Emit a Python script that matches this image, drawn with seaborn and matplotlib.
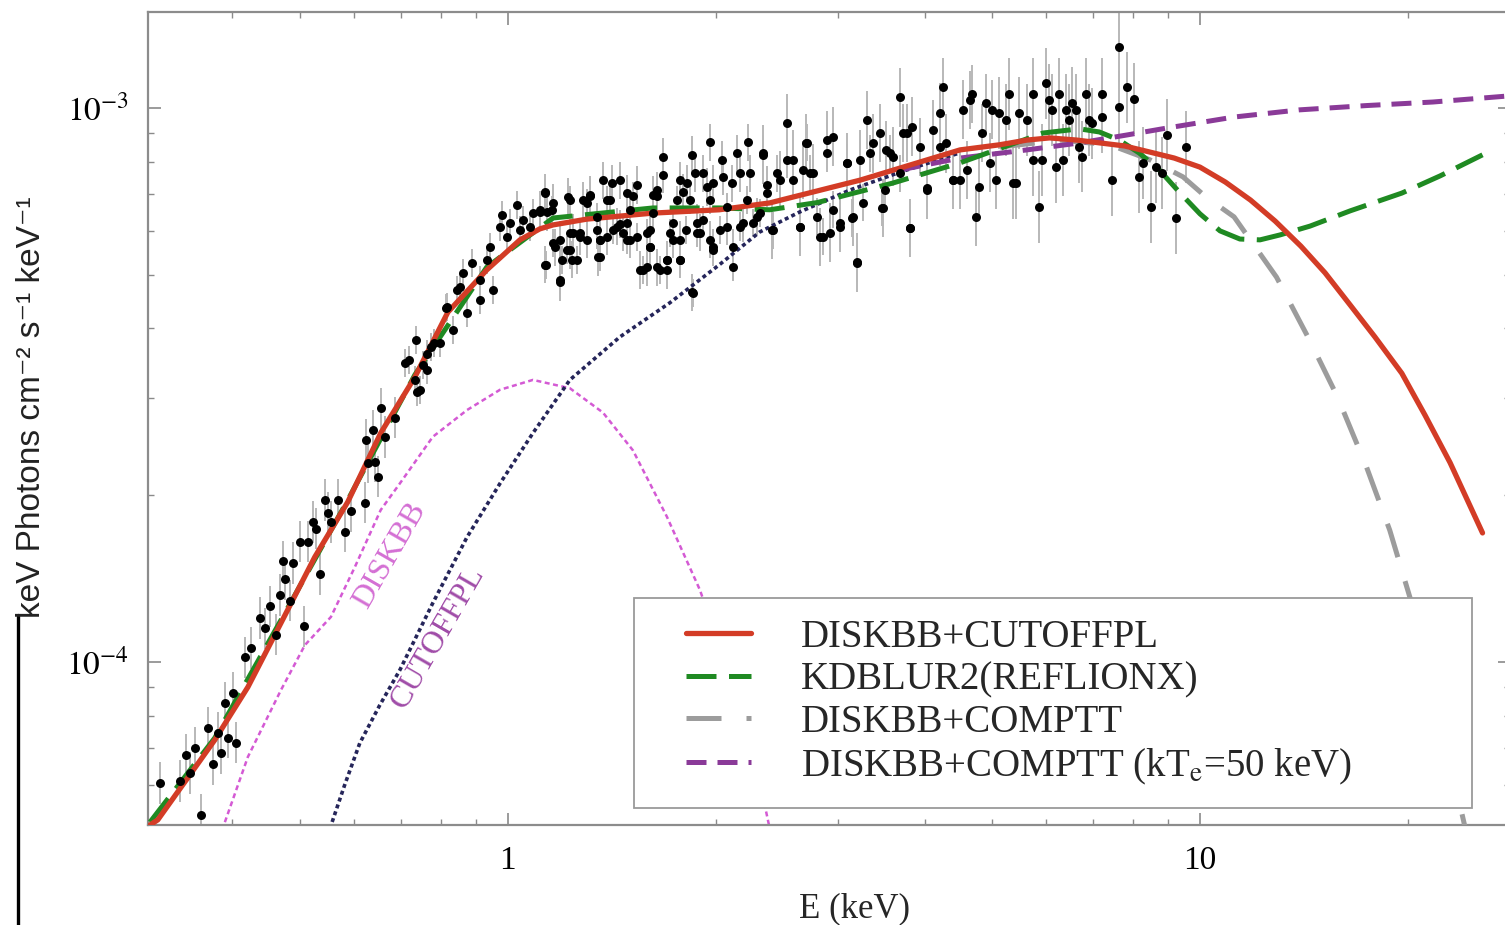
import numpy as np
import matplotlib
matplotlib.use("Agg")
import matplotlib.pyplot as plt
import seaborn as sns
from matplotlib.ticker import FixedLocator, FixedFormatter, LogLocator, NullFormatter
from matplotlib.lines import Line2D
from matplotlib.legend_handler import HandlerLine2D

# ---------------- data (E in keV, flux in units of 1e-4 keV Photons cm^-2 s^-1 keV^-1) -------------
# observed spectrum, split in energy bands with their typical relative error
segA_E = [0.314, 0.336, 0.343, 0.347, 0.353, 0.360, 0.369, 0.375, 0.381, 0.385, 0.390, 0.394, 0.401, 0.405,
          0.417, 0.425, 0.438, 0.445, 0.453, 0.462, 0.468, 0.473, 0.476, 0.484, 0.489, 0.500, 0.508, 0.514,
          0.523, 0.528, 0.535, 0.544, 0.549, 0.555, 0.568, 0.581, 0.593, 0.621, 0.624, 0.628, 0.638, 0.642,
          0.649, 0.655, 0.664, 0.686]
segA_F = [0.605, 0.61, 0.68, 0.63, 0.70, 0.53, 0.76, 0.655, 0.745, 0.685, 0.845, 0.73, 0.88, 0.715,
          1.02, 1.06, 1.20, 1.15, 1.26, 1.12, 1.32, 1.52, 1.41, 1.29, 1.51, 1.65, 1.16, 1.65,
          1.79, 1.74, 1.44, 1.96, 1.86, 1.79, 1.96, 1.72, 1.87, 1.94, 2.52, 2.29, 2.62, 2.30,
          2.16, 2.87, 2.55, 2.76]
segA_err = 1.09

segB_E = [0.709, 0.720, 0.733, 0.736, 0.739, 0.746, 0.753, 0.764, 0.765, 0.774, 0.781, 0.798, 0.814, 0.817,
          0.833, 0.845, 0.853, 0.861, 0.873, 0.887, 0.911, 0.911, 0.932, 0.942, 0.952, 0.974, 0.980, 0.997,
          1.007, 1.03, 1.041, 1.051, 1.076, 1.087, 1.112, 1.13, 1.137, 1.157, 1.161, 1.189, 1.197, 1.217,
          1.229, 1.229, 1.258, 1.271, 1.30, 1.314, 1.345, 1.358, 1.358, 1.39, 1.418, 1.451, 1.485, 1.50,
          1.515, 1.535, 1.567, 1.588, 1.604, 1.62, 1.641, 1.658, 1.697, 1.714, 1.731, 1.754, 1.772, 1.81,
          1.832, 1.85, 1.875, 1.913, 1.958, 1.978, 2.024, 2.071, 2.113, 2.163, 2.213, 2.259, 2.312, 2.366]
segB_F = [3.46, 3.51, 3.23, 3.81, 3.07, 3.10, 3.44, 3.59, 3.37, 3.70, 3.76, 3.76, 4.36, 4.38,
          3.97, 4.69, 4.75, 5.03, 4.27, 5.25, 4.89, 4.50, 5.32, 5.61, 4.69, 6.11, 6.41, 5.85,
          6.20, 6.68, 6.02, 6.28, 6.11, 6.47, 6.50, 7.02, 5.21, 6.55, 5.71, 4.89, 5.32, 5.54,
          5.95, 6.82, 5.32, 5.95, 6.74, 6.93, 6.36, 5.39, 5.78, 6.82, 6.02, 6.17, 5.78, 6.55,
          6.93, 5.85, 5.10, 5.95, 5.61, 6.47, 6.93, 5.10, 5.32, 5.95, 6.20, 6.82, 5.32, 6.02,
          6.82, 4.63, 5.95, 6.28, 6.82, 5.54, 6.02, 6.63, 5.16, 6.11, 6.82, 6.20, 6.47, 7.02]
segB_err = 1.06

segB2_E = [1.131, 1.161, 1.139, 1.131, 1.189, 1.169, 1.229, 1.237, 1.221, 1.271, 1.284, 1.314, 1.349, 1.358,
           1.404, 1.413, 1.451, 1.466, 1.500, 1.536, 1.551, 1.588, 1.604, 1.620, 1.642, 1.674, 1.674, 1.697,
           1.697, 1.731, 1.772, 1.790, 1.814, 1.845, 1.845, 1.864, 1.894, 1.913, 1.939, 1.958, 1.978, 1.978,
           2.037, 2.044, 2.071, 2.106, 2.113, 2.141, 2.163, 2.184, 2.220, 2.236, 2.289, 2.335, 2.366, 2.414,
           2.446, 2.529, 2.580, 2.640, 2.703, 2.730, 2.794, 2.850, 2.889, 2.947, 3.016, 3.088, 3.139, 3.191,
           3.255, 3.332, 3.468, 3.561, 3.806, 4.027, 4.205, 4.392, 3.503, 3.681, 1.112, 1.189, 1.241, 1.301,
           1.344, 1.390, 1.437, 1.485, 1.604, 1.485, 1.372, 1.772, 1.642, 1.772, 1.958, 1.875]
segB2_F = [7.05, 6.74, 6.49, 5.21, 4.85, 5.61, 5.54, 5.32, 6.91, 5.85, 6.82, 6.97, 5.38, 5.78,
           6.82, 7.32, 7.41, 5.95, 5.78, 7.26, 5.10, 5.16, 5.61, 6.97, 5.16, 8.16, 7.57, 5.32,
           5.10, 5.78, 5.32, 7.05, 7.32, 8.23, 4.65, 7.63, 5.95, 7.63, 7.20, 8.68, 5.61, 7.32,
           8.06, 7.51, 6.10, 7.32, 5.61, 8.29, 7.63, 6.20, 8.68, 7.63, 6.36, 8.29, 7.26, 6.02,
           7.63, 8.06, 7.41, 6.10, 8.65, 7.63, 6.36, 5.85, 8.29, 6.55, 6.10, 7.96, 6.33, 5.25,
           6.74, 8.29, 6.60, 8.29, 6.07, 7.17, 8.50, 7.41, 7.11, 7.63, 6.55, 5.78, 5.95, 5.78,
           6.02, 5.85, 6.10, 6.20, 6.02, 7.02, 7.41, 7.41, 7.11, 5.78, 5.78, 6.20]
segB2_err = 1.08

segC_E = [2.335, 2.41, 2.471, 2.53, 2.58, 2.64, 2.67, 2.70, 2.76, 2.822, 2.89, 2.917, 2.95, 3.016,
          3.09, 3.15, 3.19, 3.223, 3.30, 3.37, 3.445, 3.48, 3.52, 3.60, 3.681, 3.72, 3.77, 3.806,
          3.84, 3.934, 4.03, 4.11, 4.205, 4.25, 4.30, 4.39, 4.494, 4.54, 4.60, 4.645, 4.69, 4.75,
          4.80, 4.85, 4.91, 4.965, 5.01, 5.08]
segC_F = [8.24, 6.02, 7.41, 9.38, 8.06, 6.11, 7.73, 8.63, 7.63, 5.85, 8.75, 5.95, 8.87, 6.20,
          7.96, 6.36, 5.27, 8.06, 9.51, 8.63, 9.01, 6.60, 8.40, 8.17, 10.46, 9.01, 9.01, 6.07,
          9.25, 8.50, 7.11, 9.13, 9.80, 10.9, 8.63, 7.41, 7.41, 9.92, 7.73, 10.34, 10.6, 6.36,
          7.20, 9.01, 10.2, 7.96, 9.92, 7.41]
segC_err = 1.13

segD_E = [5.132, 5.25, 5.306, 5.36, 5.43, 5.485, 5.62, 5.73, 5.73, 5.862, 5.92, 6.00, 6.06, 6.12,
          6.20, 6.264, 6.33, 6.41, 6.476, 6.54, 6.63, 6.695, 6.76, 6.85, 6.92, 6.99, 7.23, 7.23,
          7.47, 7.646, 7.646, 7.85, 8.04, 8.172, 8.26, 8.50, 8.64, 8.82, 8.97, 9.23, 9.56]
segD_F = [9.80, 9.51, 10.6, 7.32, 7.32, 9.80, 9.51, 8.06, 10.6, 6.63, 8.06, 11.07, 10.34, 9.92,
          7.83, 10.6, 8.06, 9.92, 9.51, 10.2, 9.92, 8.50, 8.17, 10.6, 9.51, 9.38, 10.6, 9.63,
          7.41, 10.04, 12.9, 10.9, 10.4, 7.50, 7.96, 6.63, 7.83, 7.63, 8.94, 6.33, 8.50]
segD_err = 1.16

# model curves
red_E = [0.304, 0.312, 0.377, 0.421, 0.470, 0.526, 0.587, 0.655, 0.734, 0.819, 0.932, 1.041, 1.112, 1.162,
         1.30, 1.62, 2.02, 2.39, 3.23, 4.50, 5.13, 5.62, 6.06, 6.64, 7.155, 7.78, 8.448, 9.18, 10.0, 10.88,
         11.83, 12.84, 13.99, 15.16, 16.48, 17.90, 19.57, 21.14, 22.98, 25.6]
red_F = [0.508, 0.519, 0.723, 0.901, 1.176, 1.547, 1.945, 2.59, 3.27, 4.28, 5.10, 5.78, 6.05, 6.15,
         6.30, 6.46, 6.55, 6.74, 7.41, 8.40, 8.58, 8.75, 8.83, 8.75, 8.65, 8.54, 8.33, 8.12, 7.82, 7.35,
         6.82, 6.25, 5.63, 5.04, 4.41, 3.86, 3.32, 2.79, 2.29, 1.71]

green_E = [0.304, 0.377, 0.470, 0.587, 0.734, 0.932, 1.162, 1.62, 2.02, 2.39, 2.80, 3.60, 4.50, 5.93,
           6.695, 7.155, 7.646, 8.172, 8.733, 9.333, 10.0, 10.69, 11.42, 12.21, 13.05, 14.42, 16.48,
           19.57, 22.23, 25.6]
green_F = [0.514, 0.729, 1.19, 1.96, 3.30, 5.16, 6.33, 6.60, 6.60, 6.55, 6.75, 7.32, 7.96, 9.01,
           9.17, 9.05, 8.75, 8.29, 7.73, 7.05, 6.44, 6.00, 5.80, 5.78, 5.90, 6.12, 6.52,
           7.02, 7.54, 8.23]

gray_E = [5.14, 6.28, 7.41, 8.47, 9.45, 10.2, 11.2, 12.9, 14.4, 15.8, 17.4, 18.8, 20.1, 21.5, 23.0, 24.2]
gray_F = [8.50, 8.75, 8.58, 8.06, 7.51, 6.91, 6.36, 4.95, 3.81, 3.01, 2.25, 1.73, 1.31, 0.928, 0.657, 0.498]

purple_E = [3.69, 4.50, 5.62, 6.71, 7.85, 8.96, 11.2, 13.9, 17.4, 21.7, 27.6]
purple_F = [7.73, 8.12, 8.40, 8.65, 8.94, 9.20, 9.63, 9.92, 10.1, 10.25, 10.5]

diskbb_E = [0.390, 0.421, 0.470, 0.509, 0.555, 0.601, 0.655, 0.698, 0.779, 0.873, 0.974, 1.087, 1.229,
            1.372, 1.516, 1.697, 1.894, 2.11, 2.26, 2.39]
diskbb_F = [0.514, 0.674, 0.890, 1.073, 1.206, 1.484, 1.881, 2.10, 2.55, 2.85, 3.10, 3.23, 3.12,
            2.82, 2.41, 1.83, 1.35, 0.917, 0.694, 0.50]

cutoff_E = [0.553, 0.581, 0.611, 0.653, 0.698, 0.779, 0.873, 0.974, 1.087, 1.229, 1.451, 1.714, 2.02,
            2.31, 2.64, 3.12, 3.69, 4.50]
cutoff_F = [0.50, 0.600, 0.714, 0.836, 0.967, 1.278, 1.681, 2.10, 2.59, 3.23, 3.86, 4.45, 5.21,
            5.97, 6.49, 7.11, 7.66, 8.30]

legend_labels = ["DISKBB+CUTOFFPL", "KDBLUR2(REFLIONX)", "DISKBB+COMPTT",
                 "DISKBB+COMPTT (kT$_{\\rm e}$=50 keV)"]
unit = 1e-4

# ---------------- style -------------
sns.set_theme(style="ticks")
plt.rcParams["font.family"] = ["Liberation Serif", "DejaVu Serif"]
plt.rcParams["mathtext.fontset"] = "stix"

fig = plt.figure(figsize=(15.05, 9.25), dpi=100)
ax = fig.add_axes([148 / 1505, 100 / 925, (1510 - 148) / 1505, 813 / 925])
ax.set_xscale("log")
ax.set_yscale("log")

segments = [(segA_E, segA_F, segA_err), (segB_E, segB_F, segB_err), (segB2_E, segB2_F, segB2_err),
            (segC_E, segC_F, segC_err), (segD_E, segD_F, segD_err)]
for E, F, fe in segments:
    E = np.asarray(E)
    F = np.asarray(F) * unit
    ax.errorbar(E, F, yerr=[F - F / fe, F * fe - F], fmt="none", ecolor="#b8b8b8",
                elinewidth=1.4, capsize=0, zorder=1)

allE = np.concatenate([s[0] for s in segments])
allF = np.concatenate([s[1] for s in segments]) * unit


def curve(E, F, color, lw, ls, z):
    sns.lineplot(x=np.asarray(E), y=np.asarray(F) * unit, ax=ax, color=color, linewidth=lw,
                 linestyle=ls, sort=False, estimator=None, legend=False, zorder=z)
    return ax.lines[-1]


curve(diskbb_E, diskbb_F, "#d45ad4", 1.8, (0, (2.0, 1.4)), 2)
curve(cutoff_E, cutoff_F, "#25255a", 2.6, (0, (1.1, 0.9)), 2)
h_gray = curve(gray_E, gray_F, "#9c9c9c", 3.6, (0, (7, 5)), 3)
h_purple = curve(purple_E, purple_F, "#8a3a98", 3.6, (0, (4, 2.2)), 3)
h_green = curve(green_E, green_F, "#1f8a22", 3.6, (0, (6, 2.5)), 4)
h_red = curve(red_E, red_F, "#d33c26", 3.8, "-", 5)

sns.scatterplot(x=allE, y=allF, ax=ax, color="black", s=42, linewidth=0, zorder=6, legend=False)

ax.set_xlim(0.302, 28.05)
ax.set_ylim(0.508e-4, 14.9e-4)

# ticks
ax.xaxis.set_major_locator(FixedLocator([1, 10]))
ax.xaxis.set_major_formatter(FixedFormatter(["1", "10"]))
ax.yaxis.set_major_locator(FixedLocator([1e-4, 1e-3]))
ax.yaxis.set_major_formatter(FixedFormatter(["$10^{-4}$", "$10^{-3}$"]))
ax.xaxis.set_minor_locator(LogLocator(base=10, subs=np.arange(2, 10)))
ax.yaxis.set_minor_locator(LogLocator(base=10, subs=np.arange(2, 10)))
ax.xaxis.set_minor_formatter(NullFormatter())
ax.yaxis.set_minor_formatter(NullFormatter())
ax.tick_params(which="both", direction="in", top=True, right=True, colors="#8a8a8a",
               labelcolor="black", labelsize=24)
ax.tick_params(which="major", length=9, width=1.2)
ax.tick_params(which="minor", length=4.5, width=1.0)
ax.tick_params(axis="x", which="major", pad=15)
ax.tick_params(axis="y", which="major", pad=14)
for sp in ax.spines.values():
    sp.set_color("#8c8c8c")
    sp.set_linewidth(1.6)

ax.set_xlabel("E (keV)", fontsize=25)
ax.xaxis.set_label_coords((855 - 148) / 1362, -0.083)

# component labels
ax.text(0.675, 1.56e-4, "DISKBB", rotation=60, color="#d46fd4", fontsize=23,
        ha="center", va="center", rotation_mode="anchor", zorder=7)
ax.text(0.792, 1.11e-4, "CUTOFFPL", rotation=60, color="#a04ca8", fontsize=23,
        ha="center", va="center", rotation_mode="anchor", zorder=7)

# legend
leg = ax.legend([h_red, h_green, h_gray, h_purple], legend_labels, loc="lower left",
                bbox_to_anchor=(0.357, 0.021, 0.615, 0.256), mode="expand", frameon=True,
                fancybox=False, edgecolor="#9a9a9a", framealpha=1, fontsize=28,
                handlelength=2.44, handletextpad=1.29, labelspacing=0.14, borderpad=0.55,
                borderaxespad=0, handler_map={Line2D: HandlerLine2D(xpad=0.77)})
leg.get_frame().set_linewidth(1.3)
leg.set_zorder(8)

# y label (partly cut at the left edge)
fig.text(0.021, 0.56, "keV Photons cm⁻² s⁻¹ keV⁻¹", rotation=90,
         ha="center", va="center", fontsize=24, family=["Liberation Sans", "DejaVu Sans"],
         color="#222222")
fig.add_artist(Line2D([18 / 1505, 18 / 1505], [0, (925 - 615) / 925], transform=fig.transFigure,
                      color="black", lw=2.4))

fig.savefig("out.png", dpi=100)
